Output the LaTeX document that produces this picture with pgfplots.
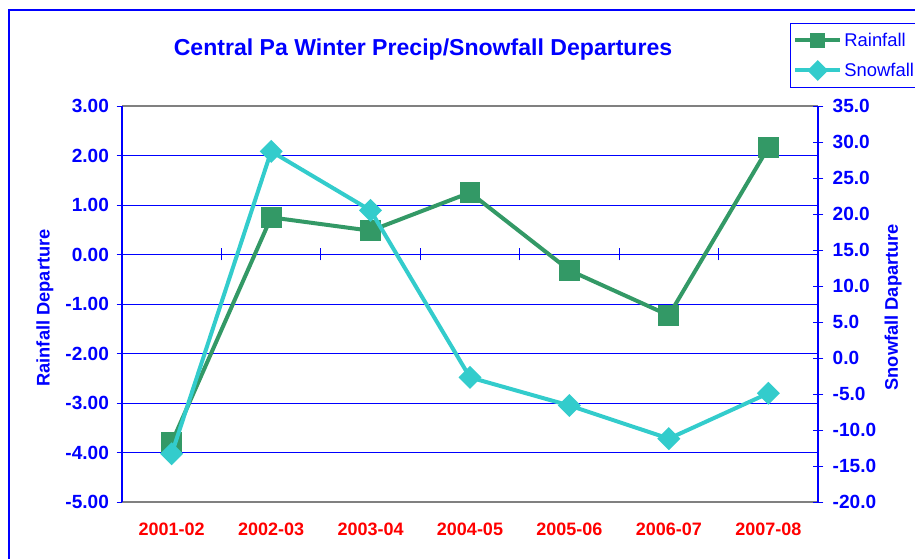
\documentclass[border=0pt]{standalone}
\usepackage{pgfplots}
\pgfplotsset{compat=1.18}
\usepackage{fontspec}
\setmainfont{Liberation Sans}
\definecolor{rain}{RGB}{51,153,102}
\definecolor{snow}{RGB}{51,204,204}
\definecolor{myblue}{RGB}{0,0,255}
\definecolor{myred}{RGB}{255,0,0}
\pgfplotsset{
  common/.style={
    at={(91.5pt,-376.5pt)}, anchor=south west,
    scale only axis, width=522pt, height=297pt,
    xmin=-0.5, xmax=6.5,
    /pgf/number format/assume math mode=true,
  },
  tickfont/.style={font=\fontsize{14.3}{16}\selectfont\bfseries},
}
\begin{document}
\begin{tikzpicture}
\useasboundingbox (0,0) rectangle (686.25pt,-419.25pt);
\draw[myblue, line width=1.5pt] (6.75pt,-440pt) -- (6.75pt,-7.5pt) -- (700pt,-7.5pt);

% rainfall axis (left)
\begin{axis}[common,
  ymin=-5, ymax=3, ytick={-5,...,3},
  separate axis lines,
  x axis line style={gray, line width=0.8pt},
  y axis line style={myblue, line width=0.8pt},
  ymajorgrids, grid style={myblue, line width=0.6pt},
  ytick pos=left,
  y tick style={myblue, line width=0.6pt},
  tick align=center, major tick length=8pt,
  xtick={0,...,6},
  xticklabels={2001-02,2002-03,2003-04,2004-05,2005-06,2006-07,2007-08},
  x tick style={draw=none},
  xticklabel style={font=\fontsize{13.5}{16}\selectfont\bfseries, text=myred, yshift=-8pt},
  yticklabel style={tickfont, text=myblue, xshift=-2.25pt,
    /pgf/number format/fixed, /pgf/number format/fixed zerofill,
    /pgf/number format/precision=2},
  every axis y label/.style={at={(axis description cs:-0.1106,0.49)}, rotate=90, anchor=center,
    font=\fontsize{13.7}{16}\selectfont\bfseries, text=myblue},
  ylabel={Rainfall Departure},
  title={Central Pa Winter Precip/Snowfall Departures},
  title style={at={(axis description cs:0.4325,1.1212)}, anchor=center,
    font=\fontsize{17.3}{20}\selectfont\bfseries, text=myblue},
  legend style={at={(axis description cs:0.9598,1.2096)}, anchor=north west,
    draw=myblue, line width=0.6pt, font=\fontsize{13.8}{16}\selectfont, text=myblue,
    row sep=8pt, inner xsep=2pt, inner ysep=5.5pt, nodes={inner sep=1.5pt}, cells={anchor=west},
    text width=52pt},
  legend image code/.code={\draw[#1, mark repeat=2, mark phase=2, mark size=4pt]
    plot coordinates {(0pt,0pt)(17pt,0pt)(34pt,0pt)};},
]
\addplot[rain, line width=3pt, mark=square*, mark size=6.3pt,
  mark options={solid, fill=rain, draw=none}]
  coordinates {(0,-3.80) (1,0.75) (2,0.48) (3,1.25) (4,-0.32) (5,-1.23) (6,2.16)};
\addlegendentry{Rainfall}
\addlegendimage{snow, line width=3pt, mark=square*, mark options={solid, fill=snow, draw=none, rotate=45}}
\addlegendentry{Snowfall}
\end{axis}

% category tick marks on the zero line
\begin{axis}[common,
  ymin=-5, ymax=3,
  axis y line=none, axis x line=middle,
  x axis line style={-, draw=none},
  xtick={0.5,1.5,2.5,3.5,4.5,5.5}, xticklabels={,,,,,},
  x tick style={myblue, line width=0.6pt},
  tick align=center, major tick length=9pt,
]
\end{axis}

% snowfall axis (right)
\begin{axis}[common,
  ymin=-20, ymax=35, ytick={-20,-15,...,35},
  axis y line*=right, axis x line=none,
  y axis line style={myblue, line width=0.8pt},
  y tick style={myblue, line width=0.6pt},
  tick align=center, major tick length=8pt,
  yticklabel style={tickfont, text=myblue, xshift=3.5pt,
    /pgf/number format/fixed, /pgf/number format/fixed zerofill,
    /pgf/number format/precision=1},
  every axis y label/.style={at={(axis description cs:1.1078,0.492)}, rotate=90, anchor=center,
    font=\fontsize{13.7}{16}\selectfont\bfseries, text=myblue},
  ylabel={Snowfall Daparture},
]
\addplot[snow, line width=3pt, mark=square*, mark size=4.6pt,
  mark options={solid, fill=snow, draw=none, rotate=45}]
  coordinates {(0,-13.3) (1,28.7) (2,20.5) (3,-2.7) (4,-6.6) (5,-11.2) (6,-4.9)};
\end{axis}
\end{tikzpicture}
\end{document}
